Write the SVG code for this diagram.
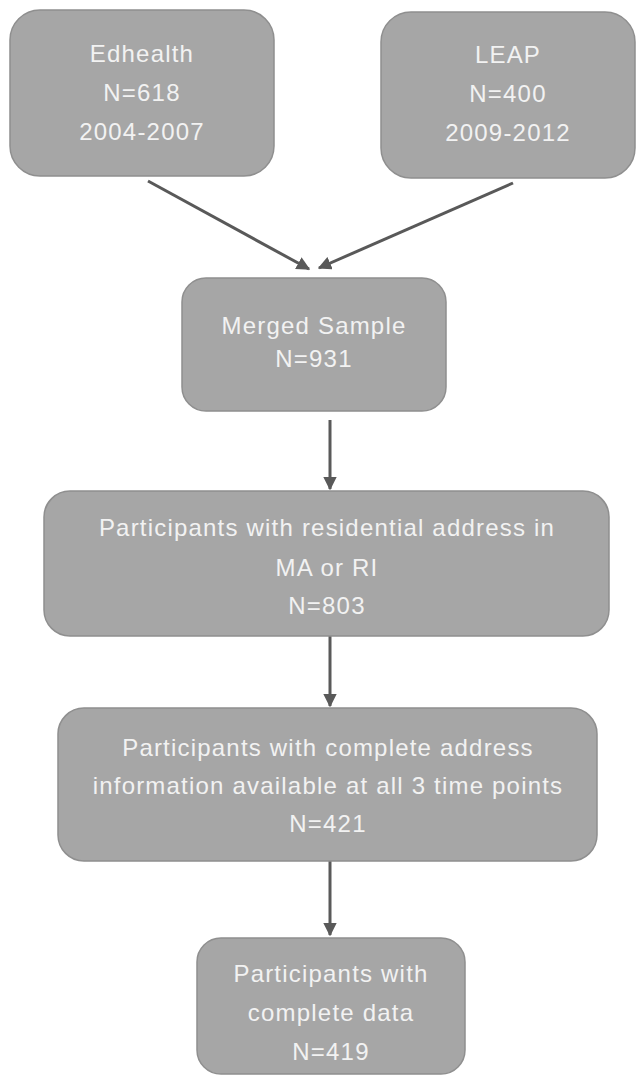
<svg xmlns="http://www.w3.org/2000/svg" width="636" height="1076" viewBox="0 0 636 1076">
<style>
.box{fill:#a6a6a6;stroke:#8f8f8f;stroke-width:1.5}
.t{font-family:"Liberation Sans",Arial,sans-serif;font-size:24px;letter-spacing:1.2px;fill:#f2f2f2;text-anchor:middle}
.c{stroke:#595959;stroke-width:3;fill:none;marker-end:url(#ah)}
</style>
<defs>
<marker id="ah" viewBox="0 0 10 10" refX="9" refY="5" markerWidth="4.5" markerHeight="4.5" orient="auto" markerUnits="strokeWidth">
<path d="M0,0 L10,5 L0,10 z" fill="#595959"/>
</marker>
</defs>
<rect width="636" height="1076" fill="#ffffff"/>
<g id="connectors">
<line class="c" x1="148" y1="181" x2="309" y2="269"/>
<line class="c" x1="513" y1="183" x2="319" y2="268"/>
<line class="c" x1="330" y1="420" x2="330" y2="489"/>
<line class="c" x1="330" y1="636" x2="330" y2="706"/>
<line class="c" x1="330" y1="861" x2="330" y2="935"/>
</g>
<g id="edhealth">
<rect class="box" x="10" y="10" width="264" height="166" rx="30"/>
<text class="t" x="142" y="62">Edhealth</text>
<text class="t" x="142" y="101">N=618</text>
<text class="t" x="142" y="140">2004-2007</text>
</g>
<g id="leap">
<rect class="box" x="381" y="12" width="254" height="166" rx="30"/>
<text class="t" x="508" y="63">LEAP</text>
<text class="t" x="508" y="102">N=400</text>
<text class="t" x="508" y="141">2009-2012</text>
</g>
<g id="merged">
<rect class="box" x="182" y="278" width="264" height="133" rx="24"/>
<text class="t" x="314" y="334">Merged Sample</text>
<text class="t" x="314" y="367">N=931</text>
</g>
<g id="ma-ri">
<rect class="box" x="44" y="491" width="565" height="145" rx="26"/>
<text class="t" x="327" y="536">Participants with residential address in</text>
<text class="t" x="327" y="576">MA or RI</text>
<text class="t" x="327" y="614">N=803</text>
</g>
<g id="complete-address">
<rect class="box" x="58" y="708" width="539" height="153" rx="26"/>
<text class="t" x="328" y="756">Participants with complete address</text>
<text class="t" x="328" y="794">information available at all 3 time points</text>
<text class="t" x="328" y="832">N=421</text>
</g>
<g id="complete-data">
<rect class="box" x="197" y="938" width="268" height="136" rx="24"/>
<text class="t" x="331" y="982">Participants with</text>
<text class="t" x="331" y="1021">complete data</text>
<text class="t" x="331" y="1060">N=419</text>
</g>
</svg>
